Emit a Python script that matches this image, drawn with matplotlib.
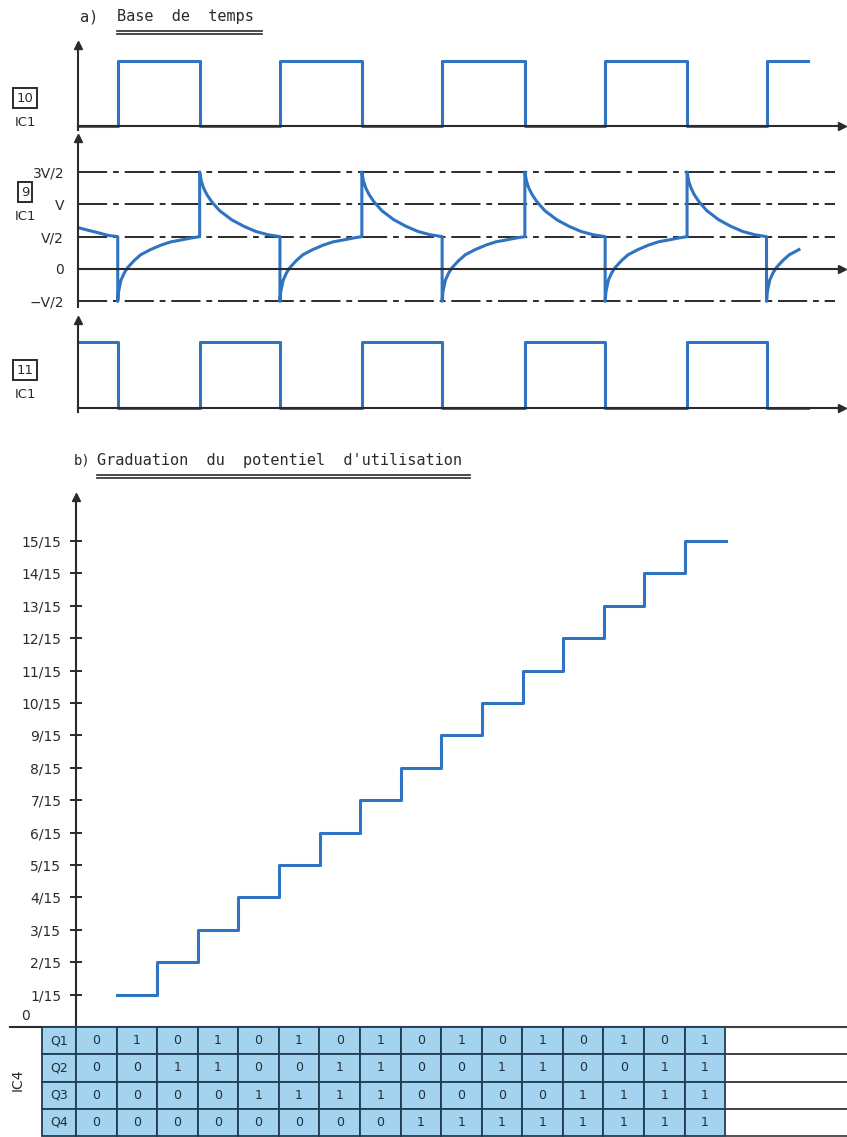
import matplotlib.pyplot as plt

W, H = 847, 1137
ink = "#2b2b2b"
blue = "#2e74c1"
fill = "#a3d3ee"
grid = "#1f3e52"

# a) Base de temps -- switching instants, in half periods from the y axis
t_switch = [0.49, 1.5, 2.49, 3.5, 4.49, 5.51, 6.5, 7.51, 8.49]
t_end = 9.0
t_end_9 = 8.9
pin10 = [0, 1, 0, 1, 0, 1, 0, 1, 0, 1]
pin11 = [1, 0, 1, 0, 1, 0, 1, 0, 1, 0]

# pin 9 (in V): start of trace, then fall after +V jump and rise after -V jump
head_t = [0.0, 0.12, 0.25, 0.37, 0.49]
head_v = [0.64, 0.6, 0.56, 0.52, 0.5]
fall_dt = [0, 0.02, 0.05, 0.09, 0.15, 0.25, 0.4, 0.55, 0.7, 0.85, 1.0]
fall_v = [1.5, 1.36, 1.25, 1.15, 1.04, 0.9, 0.76, 0.66, 0.58, 0.53, 0.5]
rise_dt = [0, 0.01, 0.04, 0.08, 0.12, 0.2, 0.28, 0.4, 0.53, 0.65, 0.78, 0.9, 1.0]
rise_v = [-0.5, -0.35, -0.17, -0.06, 0.02, 0.13, 0.22, 0.3, 0.37, 0.42, 0.45, 0.48, 0.5]
ref_levels = [1.5, 1.0, 0.5, -0.5]
v_ticks = [1.5, 1.0, 0.5, 0.0, -0.5]
v_labels = ["3V/2", "V", "V/2", "0", "\u2212V/2"]

# b) Graduation du potentiel d'utilisation
stair_cols = [1, 2, 3, 4, 5, 6, 7, 8, 9, 10, 11, 12, 13, 14, 15]
stair_lvl = [1, 2, 3, 4, 5, 6, 7, 8, 9, 10, 11, 12, 13, 14, 15]
frac_ticks = [1, 2, 3, 4, 5, 6, 7, 8, 9, 10, 11, 12, 13, 14, 15]
frac_labels = [f"{k}/15" for k in frac_ticks]

row_names = ["Q1", "Q2", "Q3", "Q4"]
q1 = [0, 1, 0, 1, 0, 1, 0, 1, 0, 1, 0, 1, 0, 1, 0, 1]
q2 = [0, 0, 1, 1, 0, 0, 1, 1, 0, 0, 1, 1, 0, 0, 1, 1]
q3 = [0, 0, 0, 0, 1, 1, 1, 1, 0, 0, 0, 0, 1, 1, 1, 1]
q4 = [0, 0, 0, 0, 0, 0, 0, 0, 1, 1, 1, 1, 1, 1, 1, 1]

fig = plt.figure(figsize=(W / 100, H / 100), dpi=100)


def box(x0, y0, x1, y1):
    # pixel box (origin top left) -> figure fraction
    return [x0 / W, 1 - y1 / H, (x1 - x0) / W, (y1 - y0) / H]


def arrow_axes(ax, right_arrow=True):
    ax.patch.set_alpha(0)
    for s in ["top", "right"]:
        ax.spines[s].set_visible(False)
    ax.spines["bottom"].set_position(("data", 0))
    for s in ["left", "bottom"]:
        ax.spines[s].set_color(ink)
        ax.spines[s].set_linewidth(1.5)
    if right_arrow:
        ax.plot(1, 0, ">", color=ink, ms=6, transform=ax.get_yaxis_transform(), clip_on=False)
    ax.plot(0, 1, "^", color=ink, ms=6, transform=ax.get_xaxis_transform(), clip_on=False)
    ax.set_xticks([])


# overlay in pixel coordinates for the free texts
ov = fig.add_axes([0, 0, 1, 1])
ov.set_xlim(0, W)
ov.set_ylim(H, 0)
ov.axis("off")

mono = dict(family="DejaVu Sans Mono", color=ink, fontsize=11, va="center")
ov.text(80, 17, "a)", **mono)
ov.text(117, 17, "Base  de  temps", **mono)
ov.plot([117, 262], [31, 31], color=ink, lw=1.2)
ov.plot([117, 262], [34, 34], color=ink, lw=1.2)
ov.text(74, 461, "b)", family="DejaVu Sans Mono", color=ink, fontsize=10, va="center")
ov.text(97, 461, "Graduation  du  potentiel  d'utilisation", **mono)
ov.plot([97, 470], [475, 475], color=ink, lw=1.2)
ov.plot([97, 470], [478, 478], color=ink, lw=1.2)

boxed = dict(ha="center", va="center", fontsize=9.5, color=ink,
             bbox=dict(boxstyle="square,pad=0.25", fc="none", ec=ink, lw=1.4))
for lab, yb, yi in [("10", 98, 123), ("9", 192, 216), ("11", 370, 395)]:
    ov.text(25, yb, lab, **boxed)
    ov.text(25, yi, "IC1", ha="center", va="center", fontsize=9.5, color=ink)

ov.text(25, 1016, "0", ha="center", va="center", fontsize=10, color=ink)
ov.text(18, 1080, "IC4", ha="center", va="center", rotation=90, fontsize=10, color=ink)
ov.plot([10, W], [1027, 1027], color=ink, lw=1.5)

# pin 10
ax10 = fig.add_axes(box(78, 45, 842, 130))
arrow_axes(ax10)
ax10.step([0] + t_switch + [t_end], pin10 + [pin10[-1]], where="post",
          color=blue, lw=2.2, clip_on=False)
ax10.set_xlim(0, (842 - 78) / 81.1)
ax10.set_ylim(-0.06, 1.25)
ax10.set_yticks([])

# pin 9
t9 = list(head_t)
v9 = list(head_v)
edges = t_switch + [t_end_9]
for i, ts in enumerate(t_switch):
    dts, vs = (rise_dt, rise_v) if pin10[i + 1] == 1 else (fall_dt, fall_v)
    span = edges[i + 1] - ts
    last = i == len(t_switch) - 1
    for d, v in zip(dts, vs):
        if last:
            if d <= span:
                t9.append(ts + d)
                v9.append(v)
        else:
            t9.append(ts + d * span)
            v9.append(v)

ax9 = fig.add_axes(box(78, 138, 842, 307))
arrow_axes(ax9)
for lv in ref_levels:
    ax9.plot([0, 9.33], [lv, lv], color=ink, lw=1.4, ls=(0, (15, 3, 3, 3)))
ax9.plot(t9, v9, color=blue, lw=2.2)
ax9.set_xlim(0, (842 - 78) / 81.1)
ax9.set_ylim((269 - 307) / 64.7, (269 - 138) / 64.7)
ax9.set_yticks(v_ticks)
ax9.set_yticklabels(v_labels)
ax9.tick_params(axis="y", length=0, pad=10, labelsize=10, labelcolor=ink)

# pin 11
ax11 = fig.add_axes(box(78, 320, 842, 412))
arrow_axes(ax11)
ax11.step([0] + t_switch + [t_end], pin11 + [pin11[-1]], where="post",
          color=blue, lw=2.2, clip_on=False)
ax11.set_xlim(0, (842 - 78) / 81.1)
ax11.set_ylim(-0.06, 1.33)
ax11.set_yticks([])

# staircase
axb = fig.add_axes(box(76, 497, 847, 1027))
arrow_axes(axb, right_arrow=False)
axb.spines["bottom"].set_visible(False)
axb.step(stair_cols + [16], stair_lvl + [stair_lvl[-1]], where="post", color=blue, lw=2.2)
axb.set_xlim(0, (847 - 76) / 40.6)
axb.set_ylim(0, (1027 - 497) / 32.4)
axb.set_yticks(frac_ticks)
axb.set_yticklabels(frac_labels)
axb.tick_params(axis="y", direction="inout", length=9, width=1.4, color=ink,
                pad=6, labelsize=10, labelcolor=ink)

# truth table of IC4
axt = fig.add_axes(box(42, 1027, 847, 1136))
axt.axis("off")
cell_text = [[n] + [str(b) for b in bits] + [""]
             for n, bits in zip(row_names, [q1, q2, q3, q4])]
widths = [34] + [40.6] * 16 + [122]
tot = sum(widths)
tb = axt.table(cellText=cell_text, colWidths=[w / tot for w in widths],
               cellLoc="center", bbox=[0, 0, 1, 1])
tb.auto_set_font_size(False)
tb.set_fontsize(9)
for (r, c), cell in tb.get_celld().items():
    cell.set_edgecolor(grid)
    cell.set_linewidth(1.3)
    cell.get_text().set_color("#1c2f3c")
    if c == len(widths) - 1:
        cell.visible_edges = "horizontal"
        cell.set_facecolor("none")
        cell.set_edgecolor("#444444")
    else:
        cell.set_facecolor(fill)

fig.savefig("out.png", dpi=100)
